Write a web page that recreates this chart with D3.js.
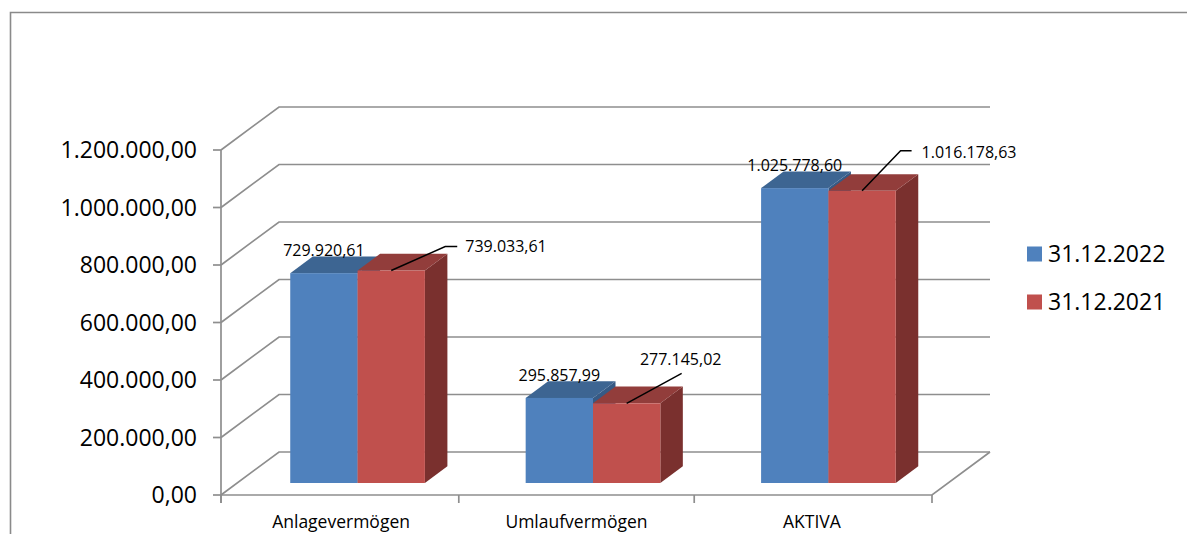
<!DOCTYPE html>
<html>
<head>
<meta charset="utf-8">
<script src="https://cdn.jsdelivr.net/npm/d3@7"></script>
<style>
  html, body { margin: 0; padding: 0; background: #fff; }
  svg { display: block; font-family: "Open Sans", "Liberation Sans", sans-serif; }
</style>
</head>
<body>
<svg id="chart" width="1187" height="534"></svg>
<script>
// ---- data ----
const categories = ["Anlagevermögen", "Umlaufvermögen", "AKTIVA"];
const seriesNames = ["31.12.2022", "31.12.2021"];
const values2022 = [729920.61, 295857.99, 1025778.60];
const values2021 = [739033.61, 277145.02, 1016178.63];
const labels2022 = ["729.920,61", "295.857,99", "1.025.778,60"];
const labels2021 = ["739.033,61", "277.145,02", "1.016.178,63"];
const yTicks = [0, 200000, 400000, 600000, 800000, 1000000, 1200000];
const yTickLabels = ["0,00", "200.000,00", "400.000,00", "600.000,00", "800.000,00", "1.000.000,00", "1.200.000,00"];

// ---- layout / style ----
const colors = {
  front: ["#4F81BD", "#C0504D"],
  top:   ["#3D6592", "#923D3B"],
  side:  ["#365A85", "#7A302E"]
};
const grid = "#8E8E8E";
const svg = d3.select("#chart");

const x0 = 221, x1 = 932, yBase = 495, yTop = 150;
const wallDx = 58, wallDy = -43;           // depth of chart box
const barOffDx = 16.5, barOffDy = -12;      // bars' front plane
const barDx = 22.5, barDy = -16.7;          // bar depth

const y = d3.scaleLinear().domain([0, 1200000]).range([yBase, yTop]);
const x = d3.scaleBand().domain(categories).range([x0, x1]).paddingInner(0.428).paddingOuter(0.224);
const xs = d3.scaleBand().domain(seriesNames).range([0, x.bandwidth()]);

// outer border (left + top)
svg.append("path").attr("d", "M10.5,534 V12.5 H1187")
  .attr("fill", "none").attr("stroke", "#8A8A8A").attr("stroke-width", 1.6);

const g = svg.append("g");

// gridlines: left wall diagonals + back wall horizontals
yTicks.forEach(t => {
  const yy = y(t);
  g.append("path")
    .attr("d", `M${x0},${yy} L${x0 + wallDx},${yy + wallDy} L${x1 + wallDx},${yy + wallDy}`)
    .attr("fill", "none").attr("stroke", grid).attr("stroke-width", 1.7);
});
// floor right edge + front edge
g.append("path")
  .attr("d", `M${x0},${yBase} L${x1},${yBase} L${x1 + wallDx},${yBase + wallDy}`)
  .attr("fill", "none").attr("stroke", grid).attr("stroke-width", 1.7);

// y axis line
g.append("line").attr("x1", x0).attr("x2", x0).attr("y1", yTop).attr("y2", yBase + 8)
  .attr("stroke", grid).attr("stroke-width", 1.7);
// y ticks + labels
yTicks.forEach((t, i) => {
  g.append("line").attr("x1", x0 - 8).attr("x2", x0).attr("y1", y(t)).attr("y2", y(t))
    .attr("stroke", grid).attr("stroke-width", 1.7);
  g.append("text").attr("x", 197).attr("y", y(t)).attr("dy", "0.36em")
    .attr("text-anchor", "end").attr("font-size", 23).attr("fill", "#000")
    .text(yTickLabels[i]);
});
// category ticks
const step = x.step();
const catTickXs = [x0].concat(categories.map(c => x(c) - x.paddingInner() * step / 2 + step)).slice(0, categories.length + 1);
catTickXs[catTickXs.length - 1] = x1;
catTickXs.forEach(cx => {
  g.append("line").attr("x1", cx).attr("x2", cx).attr("y1", yBase).attr("y2", yBase + 8)
    .attr("stroke", grid).attr("stroke-width", 1.7);
});
// category labels
categories.forEach(c => {
  g.append("text").attr("x", x(c) + x.bandwidth() / 2).attr("y", 528)
    .attr("text-anchor", "middle").attr("font-size", 17.5).attr("fill", "#000").text(c);
});

// bars
const seriesVals = [values2022, values2021];
const bars = svg.append("g");
categories.forEach((c, ci) => {
  seriesNames.forEach((s, si) => {
    const v = seriesVals[si][ci];
    const bx0 = x(c) + xs(s) + barOffDx;
    const bx1 = bx0 + xs.bandwidth();
    const yt = y(v) + barOffDy;
    const yb = y(0) + barOffDy;
    // side
    bars.append("path")
      .attr("d", `M${bx1},${yt} L${bx1 + barDx},${yt + barDy} L${bx1 + barDx},${yb + barDy} L${bx1},${yb} Z`)
      .attr("fill", colors.side[si]);
    // top
    bars.append("path")
      .attr("d", `M${bx0},${yt} L${bx1},${yt} L${bx1 + barDx},${yt + barDy} L${bx0 + barDx},${yt + barDy} Z`)
      .attr("fill", colors.top[si]);
    // front
    bars.append("rect").attr("x", bx0).attr("y", yt).attr("width", bx1 - bx0).attr("height", yb - yt)
      .attr("fill", colors.front[si]);
  });
});

// data labels
const lab = svg.append("g").attr("font-size", 16).attr("fill", "#000");
categories.forEach((c, ci) => {
  const bx = x(c) + xs(seriesNames[0]) + barOffDx + xs.bandwidth() / 2;
  const yt = y(values2022[ci]) + barOffDy;
  lab.append("text").attr("x", bx).attr("y", yt + barDy - 0.5)
    .attr("text-anchor", "middle").text(labels2022[ci]);
});
// leader-line placements for series 2021 (elbow offset, end offset, text offset, anchor)
const leaders = [
  { ex: 54, ey: -24, hx: 66, tx: 74, ty: -24, anchor: "start", base: "middle" },
  { ex: 55, ey: -30, hx: 55, tx: 54, ty: -38, anchor: "middle", base: "alphabetic" },
  { ex: 38.5, ey: -40, hx: 49.5, tx: 59.5, ty: -39, anchor: "start", base: "middle" }
];
categories.forEach((c, ci) => {
  const L = leaders[ci];
  const cx = x(c) + xs(seriesNames[1]) + barOffDx + xs.bandwidth() / 2;
  const yt = y(values2021[ci]) + barOffDy;
  lab.append("path")
    .attr("d", `M${cx},${yt} L${cx + L.ex},${yt + L.ey} L${cx + L.hx},${yt + L.ey}`)
    .attr("fill", "none").attr("stroke", "#000").attr("stroke-width", 1.5);
  const t = lab.append("text").attr("x", cx + L.tx).attr("y", yt + L.ty)
    .attr("text-anchor", L.anchor).text(labels2021[ci]);
  if (L.base === "middle") t.attr("dy", "0.36em");
});

// legend
const legend = svg.append("g");
const legY = [254, 302];
seriesNames.forEach((s, i) => {
  legend.append("rect").attr("x", 1027).attr("y", legY[i] - 7.5).attr("width", 15).attr("height", 15)
    .attr("fill", colors.front[i]);
  legend.append("text").attr("x", 1048).attr("y", legY[i]).attr("dy", "0.36em")
    .attr("font-size", 23).attr("fill", "#000").text(s);
});
</script>
</body>
</html>
